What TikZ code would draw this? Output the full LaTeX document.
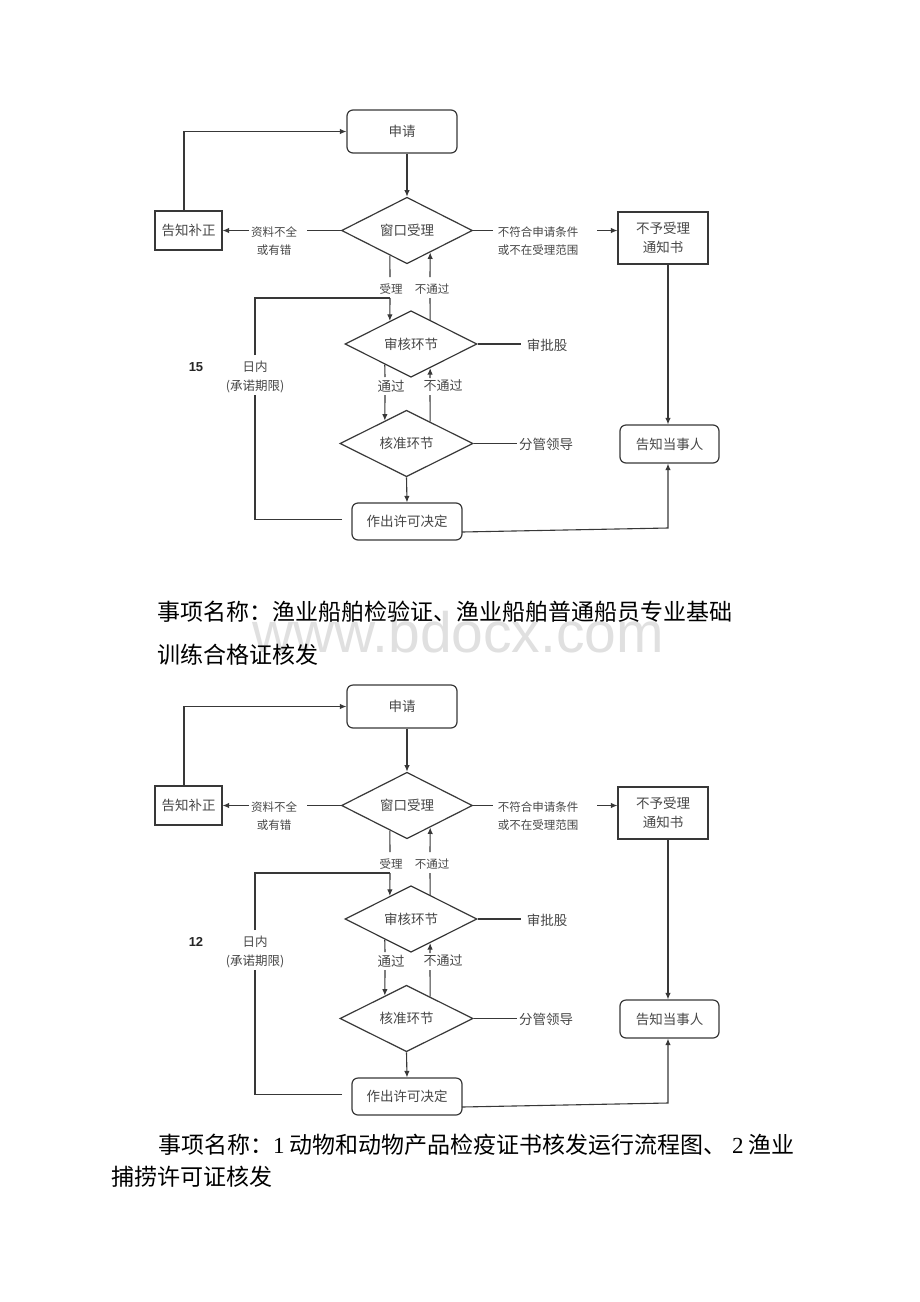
\documentclass[tikz,border=0pt]{standalone}
\usepackage{fontspec}
\setmainfont{Noto Sans CJK SC}
\newfontfamily\tnr{Liberation Serif}
\newfontfamily\arl{Liberation Sans}
\usetikzlibrary{arrows.meta,shapes.geometric,calc}
\definecolor{linec}{gray}{0.22}
\definecolor{txtc}{gray}{0.28}
\definecolor{wmc}{gray}{0.88}
\tikzset{
  ln/.style={draw=linec, line width=1.1pt},
  arr/.style={ln, -{Latex[length=6.5pt,width=5.5pt]}},
  boxbase/.style={draw=linec, line width=1.2pt, inner sep=0pt, text=txtc, font=\fontsize{13.5}{19}\selectfont, align=center},
  rbox/.style={boxbase, rounded corners=6pt},
  sbox/.style={boxbase},
  dia/.style={diamond, boxbase},
  lbl/.style={inner sep=0pt, text=txtc, font=\fontsize{11.5}{18}\selectfont, align=center},
  lblb/.style={inner sep=0pt, text=txtc, font=\fontsize{13.5}{19}\selectfont, align=center},
  captxt/.style={inner sep=0pt, text=black, font=\fontsize{23}{28}\selectfont, anchor=west},
}
\newcommand\flowdiag[3]{%
\begin{scope}[yshift=#2]
  % nodes
  \node[rbox, minimum width=110pt, minimum height=43pt] (#1sq) at (402,131.5) {申请};
  \node[sbox, minimum width=67pt, minimum height=39pt] (#1bz) at (188.5,230.5) {告知补正};
  \node[dia, minimum width=131pt, minimum height=55pt] (#1ck) at (407,230.5) {窗口受理};
  \node[sbox, minimum width=90pt, minimum height=52pt] (#1bn) at (663,238) {不予受理\\通知书};
  \node[rbox, minimum width=99pt, minimum height=38pt] (#1gz) at (669.5,444) {告知当事人};
  \node[dia, minimum width=132pt, minimum height=58pt] (#1sh) at (411,344) {审核环节};
  \node[dia, minimum width=133pt, minimum height=57pt] (#1hz) at (406.5,443.5) {核准环节};
  \node[rbox, minimum width=110pt, minimum height=37pt] (#1zp) at (407,521.5) {作出许可决定};
  % labels
  \node[lbl] (#1lbA) at (274,241) {资料不全\\或有错};
  \node[lbl] (#1lbB) at (538,241) {不符合申请条件\\或不在受理范围};
  \node[lbl] (#1lbC) at (391,289) {受理};
  \node[lbl] (#1lbD) at (432,289) {不通过};
  \node[lblb] (#1lbE) at (547,345) {审批股};
  \node[lblb] (#1lbF) at (391,386) {通过};
  \node[lblb, font=\fontsize{13}{19}\selectfont] (#1lbG) at (443,386) {不通过};
  \node[lblb] (#1lbH) at (546,444) {分管领导};
  \node[lblb, font=\fontsize{12.5}{19}\selectfont] (#1lbI) at (255,376.5) {日内\\(承诺期限)};
  \node[inner sep=0pt, text=black!85, font=\arl\bfseries\fontsize{13}{15}\selectfont] (#1num) at (196,367) {#3};
  % coordinates
  \coordinate (#1l1) at (307,230.5);
  \coordinate (#1l2) at (249,230.5);
  \coordinate (#1r1) at (493,230.5);
  \coordinate (#1r2) at (597,230.5);
  \coordinate (#1a1) at ($(#1ck.west)!0.7405!(#1ck.south)$);
  \coordinate (#1a2) at (390,277);
  \coordinate (#1a3) at (390,298);
  \coordinate (#1a4) at ($(#1sh.north)!0.318!(#1sh.west)$);
  \coordinate (#1b1) at ($(#1sh.north)!0.288!(#1sh.east)$);
  \coordinate (#1b2) at (430,298);
  \coordinate (#1b3) at (430,277);
  \coordinate (#1b4) at ($(#1ck.south)!0.351!(#1ck.east)$);
  \coordinate (#1c1) at ($(#1sh.west)!0.606!(#1sh.south)$);
  \coordinate (#1c2) at (385,377);
  \coordinate (#1c3) at (385,395);
  \coordinate (#1c4) at ($(#1hz.north)!0.323!(#1hz.west)$);
  \coordinate (#1d1) at ($(#1hz.north)!0.353!(#1hz.east)$);
  \coordinate (#1d2) at (430,395);
  \coordinate (#1d3) at (430,378);
  \coordinate (#1d4) at ($(#1sh.south)!0.288!(#1sh.east)$);
  \coordinate (#1e1) at (521,344);
  \coordinate (#1e2) at (517,443.5);
  \coordinate (#1f1) at (342,519.5);
  \coordinate (#1f2) at (255,519.5);
  \coordinate (#1f3) at (255,395);
  \coordinate (#1f4) at (255,355);
  \coordinate (#1f5) at (255,298);
  \coordinate (#1z1) at (462,532);
  \coordinate (#1z2) at (668,528);
  % connectors
  \draw[arr] (#1sq.south -| #1ck.north) -- (#1ck.north);
  \draw[arr] ([xshift=-4.5pt]#1bz.north) |- (#1sq.west);
  \draw[ln] (#1ck.west) -- (#1l1);
  \draw[arr] (#1l2) -- (#1bz.east);
  \draw[ln] (#1ck.east) -- (#1r1);
  \draw[arr] (#1r2) -- (#1r2 -| #1bn.west);
  \draw[arr] (#1bn.south -| #1z2) -- (#1z2 |- #1gz.north);
  \draw[ln] (#1a1) -- (#1a2);
  \draw[arr] (#1a3) -- (#1a4);
  \draw[ln] (#1b1) -- (#1b2);
  \draw[arr] (#1b3) -- (#1b4);
  \draw[ln] (#1c1) -- (#1c2);
  \draw[arr] (#1c3) -- (#1c4);
  \draw[ln] (#1d1) -- (#1d2);
  \draw[arr] (#1d3) -- (#1d4);
  \draw[ln] (#1sh.east) -- (#1e1);
  \draw[ln] (#1hz.east) -- (#1e2);
  \draw[arr] (#1hz.south) -- (#1zp.north);
  \draw[ln] (#1f1) -- (#1f2) -- (#1f3);
  \draw[ln] (#1f4) -- (#1f5) -- (#1a3);
  \draw[arr] (#1z1) -- (#1z2) -- (#1z2 |- #1gz.south);
\end{scope}}
\begin{document}
\begin{tikzpicture}[x=1pt,y=-1pt]
  \useasboundingbox (0,0) rectangle (920,1302);
  \fill[white] (0,0) rectangle (920,1302);
  \node[anchor=base west, inner sep=0pt, text=wmc, font=\arl\fontsize{57}{57}\selectfont] (wm) at (252,652) {www.bdocx.com};
  \flowdiag{A}{0pt}{15}
  \node[captxt] (capA1) at (157,612) {事项名称：渔业船舶检验证、渔业船舶普通船员专业基础};
  \node[captxt] (capA2) at (157,655) {训练合格证核发};
  \flowdiag{B}{-575pt}{12}
  \node[captxt] (capB1) at (158,1145) {事项名称：{\tnr 1} 动物和动物产品检疫证书核发运行流程图、 {\tnr 2} 渔业};
  \node[captxt] (capB2) at (111,1177) {捕捞许可证核发};
\end{tikzpicture}
\end{document}
